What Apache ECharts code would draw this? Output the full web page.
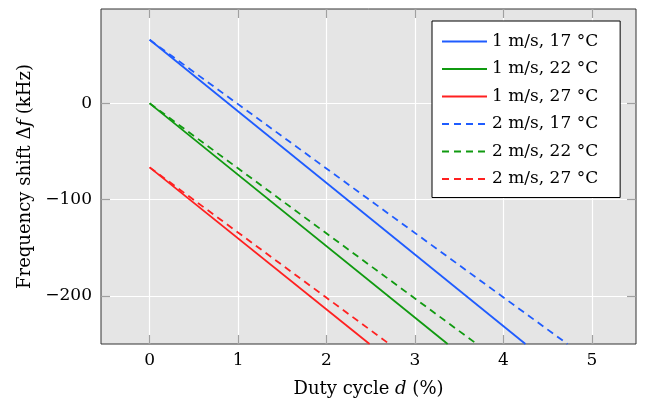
<!DOCTYPE html>
<html>
<head>
<meta charset="utf-8">
<script src="https://cdn.jsdelivr.net/npm/echarts@6/dist/echarts.min.js"></script>
<style>html,body{margin:0;padding:0;background:#fff}#c{width:647px;height:400px}</style>
</head>
<body>
<div id="c"></div>
<script>
// Data
const xTicks = [0, 1, 2, 3, 4, 5];
const yTicks = [-200, -100, 0];
const seriesNames = ['1 m/s, 17 °C', '1 m/s, 22 °C', '1 m/s, 27 °C', '2 m/s, 17 °C', '2 m/s, 22 °C', '2 m/s, 27 °C'];
const x_1ms_17 = [0, 4.25];   const y_1ms_17 = [66, -250];
const x_1ms_22 = [0, 3.37];   const y_1ms_22 = [0, -250];
const x_1ms_27 = [0, 2.487];  const y_1ms_27 = [-66.5, -250];
const x_2ms_17 = [0, 4.725];  const y_2ms_17 = [66, -250];
const x_2ms_22 = [0, 3.70];   const y_2ms_22 = [0, -250];
const x_2ms_27 = [0, 2.71];   const y_2ms_27 = [-66.5, -250];

const colors = ['#1f5cff', '#109a10', '#ff2020'];
const FONT = 'DejaVu Serif';

function pts(xs, ys) { return xs.map((x, i) => [x, ys[i]]); }
const allData = [
  pts(x_1ms_17, y_1ms_17), pts(x_1ms_22, y_1ms_22), pts(x_1ms_27, y_1ms_27),
  pts(x_2ms_17, y_2ms_17), pts(x_2ms_22, y_2ms_22), pts(x_2ms_27, y_2ms_27)
];

const series = allData.map((d, i) => ({
  name: seriesNames[i],
  type: 'line',
  data: d,
  showSymbol: false,
  symbol: 'none',
  animation: false,
  lineStyle: { color: colors[i % 3], width: 1.8, type: i < 3 ? 'solid' : [7, 5] },
  itemStyle: { color: colors[i % 3] }
}));

const tickStyle = { show: true, inside: true, length: 9, lineStyle: { color: '#a0a0a0', width: 1.2 } };
const lineOff = { show: false, onZero: false };
const titleRich = { n: { fontFamily: FONT, fontSize: 18, color: '#000' }, i: { fontFamily: FONT, fontSize: 18, fontStyle: 'italic', color: '#000' } };

const chart = echarts.init(document.getElementById('c'), null, { renderer: 'canvas' });
chart.setOption({
  animation: false,
  grid: { left: 101, right: 11, top: 9, bottom: 56, containLabel: false, outerBoundsMode: 'none',
    show: true, backgroundColor: '#e5e5e5', borderColor: '#333', borderWidth: 1 },
  legend: {
    orient: 'vertical', left: 432, top: 21,
    data: series.map(s => s.name),
    backgroundColor: '#fff', borderColor: '#000', borderWidth: 1,
    padding: [12, 22, 10, 9],
    itemWidth: 45, itemHeight: 14, itemGap: 10.5,
    itemStyle: { opacity: 0 },
    textStyle: { fontFamily: FONT, fontSize: 17, color: '#000' }
  },
  xAxis: [{
    type: 'value', min: -0.55, max: 5.5, position: 'bottom',
    axisLine: lineOff,
    axisTick: Object.assign({ customValues: xTicks }, tickStyle),
    axisLabel: { customValues: xTicks, fontFamily: FONT, fontSize: 17, color: '#000', margin: 8 },
    splitLine: { show: true, lineStyle: { color: '#fff', width: 1.2 } },
    name: '{n|Duty cycle }{i|d}{n| (%)}', nameLocation: 'middle', nameGap: 36,
    nameTextStyle: { rich: titleRich }
  }, {
    type: 'value', min: -0.55, max: 5.5, position: 'top',
    axisLine: lineOff,
    axisTick: Object.assign({ customValues: xTicks }, tickStyle),
    axisLabel: { show: false, customValues: xTicks },
    splitLine: { show: false }
  }],
  yAxis: [{
    type: 'value', min: -250, max: 98, position: 'left',
    axisLine: lineOff,
    axisTick: Object.assign({ customValues: yTicks }, tickStyle),
    axisLabel: { customValues: yTicks, fontFamily: FONT, fontSize: 17, color: '#000', margin: 9,
      formatter: v => String(v).replace('-', '\u2212') },
    splitLine: { show: true, lineStyle: { color: '#fff', width: 1.2 } },
    name: '{n|Frequency shift Δ}{i|f}{n| (kHz)}', nameLocation: 'middle', nameGap: 66,
    nameTextStyle: { rich: titleRich }
  }, {
    type: 'value', min: -250, max: 98, position: 'right',
    axisLine: lineOff,
    axisTick: Object.assign({ customValues: yTicks }, tickStyle),
    axisLabel: { show: false, customValues: yTicks },
    splitLine: { show: false }
  }],
  series: series
});
</script>
</body>
</html>
